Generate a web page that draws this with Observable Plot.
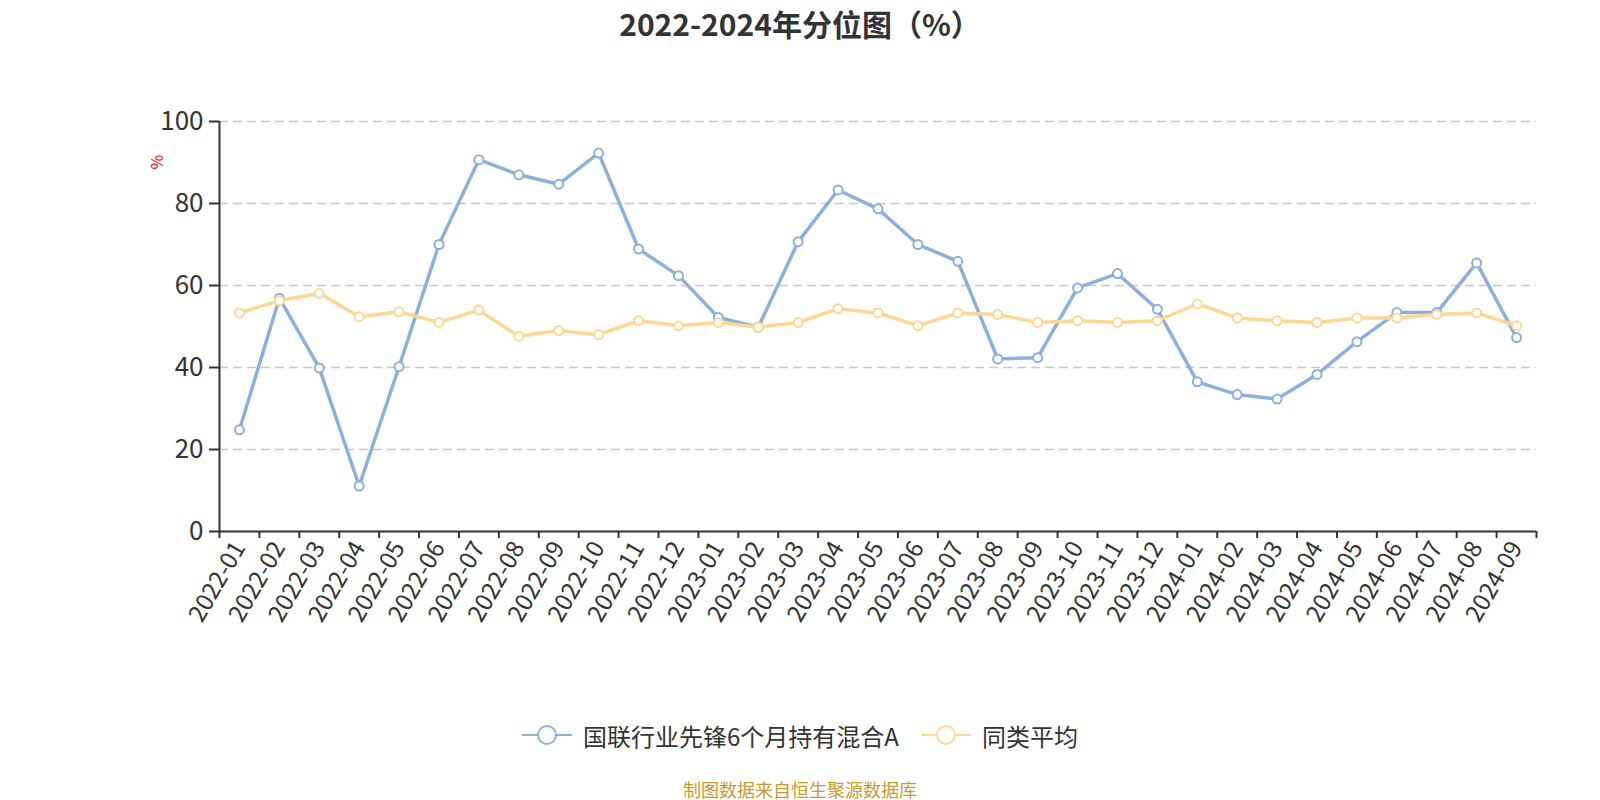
<!DOCTYPE html>
<html>
<head>
<meta charset="utf-8">
<script src="https://cdn.jsdelivr.net/npm/d3@7"></script>
<script src="https://cdn.jsdelivr.net/npm/@observablehq/plot@0.6"></script>
<style>
  html, body { margin: 0; padding: 0; background: #fff; overflow: hidden; }
  body { width: 1600px; height: 800px; position: relative; font-family: "Noto Sans CJK SC", "Noto Sans", sans-serif; }
  #title { height: 46px; line-height: 46px; text-align: center; font-size: 30px; font-weight: bold; color: #333; }
  #chart { height: 654px; }
  #ylabel { position: absolute; left: 146px; top: 150px; color: #ff0000; font-size: 16px; transform: rotate(-90deg); transform-origin: center; width: 20px; text-align: center; }
  #legend { height: 70px; display: flex; justify-content: center; align-items: center; font-size: 24px; color: #333; }
  .item { display: flex; align-items: center; margin: 0 11px; }
  .item svg { margin-right: 11px; }
  #caption { height: 30px; line-height: 30px; padding-top: 4px; text-align: center; font-size: 18px; color: #C99A2E; }
</style>
</head>
<body>
<div id="title">2022-2024年分位图（%）</div>
<div id="chart"></div>
<div id="ylabel">%</div>
<div id="legend"></div>
<div id="caption">制图数据来自恒生聚源数据库</div>
<script>
const months = ["2022-01","2022-02","2022-03","2022-04","2022-05","2022-06","2022-07","2022-08","2022-09","2022-10","2022-11","2022-12",
  "2023-01","2023-02","2023-03","2023-04","2023-05","2023-06","2023-07","2023-08","2023-09","2023-10","2023-11","2023-12",
  "2024-01","2024-02","2024-03","2024-04","2024-05","2024-06","2024-07","2024-08","2024-09"];
const fundValues = [24.8,56.9,39.9,11.1,40.2,70.0,90.7,87.0,84.7,92.3,68.9,62.4,
  52.2,49.8,70.7,83.3,78.7,70.0,65.9,42.1,42.4,59.4,62.9,54.2,
  36.5,33.4,32.3,38.3,46.3,53.4,53.4,65.5,47.3];
const avgValues = [53.3,56.3,58.1,52.4,53.6,51.0,54.0,47.6,49.0,48.0,51.4,50.2,
  51.0,49.8,51.0,54.3,53.3,50.2,53.3,52.9,51.0,51.4,51.0,51.4,
  55.5,52.1,51.4,51.0,52.1,52.1,52.9,53.3,50.2];
const yTicks = [0, 20, 40, 60, 80, 100];
const seriesNames = ["国联行业先锋6个月持有混合A", "同类平均"];
const seriesColors = ["#8DB0DD", "#FED893"];

const xc = (d, i) => i + 0.5;

const chart = Plot.plot({
  width: 1600,
  height: 654,
  marginLeft: 219,
  marginRight: 64,
  marginTop: 75,
  marginBottom: 169,
  style: { fontFamily: "'Noto Sans CJK SC', 'Noto Sans', sans-serif", background: "#fff" },
  x: { type: "linear", domain: [0, months.length] },
  y: { domain: [0, 100] },
  marks: [
    Plot.gridY({ ticks: yTicks.filter(t => t > 0), stroke: "#c8c8c8", strokeOpacity: 1, strokeWidth: 1.5, strokeDasharray: "9,5" }),
    Plot.axisY({ ticks: yTicks, tickSize: 10, tickPadding: 6, fontSize: 26, color: "#333", strokeWidth: 2, label: null }),
    Plot.axisX({ ticks: d3.range(months.length + 1), tickSize: 7, tickFormat: () => "", color: "#333", strokeWidth: 2, label: null }),
    Plot.axisX({ ticks: months.map((m, i) => i + 0.5), tickSize: 0, tickPadding: 12, tickRotate: -60,
      tickFormat: v => months[Math.floor(v)], fontSize: 24, color: "#333", label: null }),
    Plot.ruleY([0], { stroke: "#333", strokeWidth: 2 }),
    Plot.ruleX([0], { y1: 0, y2: 100, stroke: "#333", strokeWidth: 2 }),
    Plot.line(fundValues, { x: xc, y: d => d, stroke: seriesColors[0], strokeWidth: 3.5 }),
    Plot.dot(fundValues, { x: xc, y: d => d, r: 4.5, fill: "#fff", stroke: seriesColors[0], strokeWidth: 2 }),
    Plot.line(avgValues, { x: xc, y: d => d, stroke: seriesColors[1], strokeWidth: 3.5 }),
    Plot.dot(avgValues, { x: xc, y: d => d, r: 4.5, fill: "#fff", stroke: seriesColors[1], strokeWidth: 2 })
  ]
});
document.getElementById("chart").appendChild(chart);

const legend = document.getElementById("legend");
seriesNames.forEach((name, k) => {
  const item = document.createElement("div");
  item.className = "item";
  item.innerHTML = `<svg width="50" height="24" viewBox="0 0 50 24">
    <line x1="0" y1="12" x2="50" y2="12" stroke="${seriesColors[k]}" stroke-width="2"/>
    <circle cx="25" cy="12" r="9" fill="#fff" stroke="${seriesColors[k]}" stroke-width="2"/>
  </svg><span>${name}</span>`;
  legend.appendChild(item);
});
</script>
</body>
</html>
